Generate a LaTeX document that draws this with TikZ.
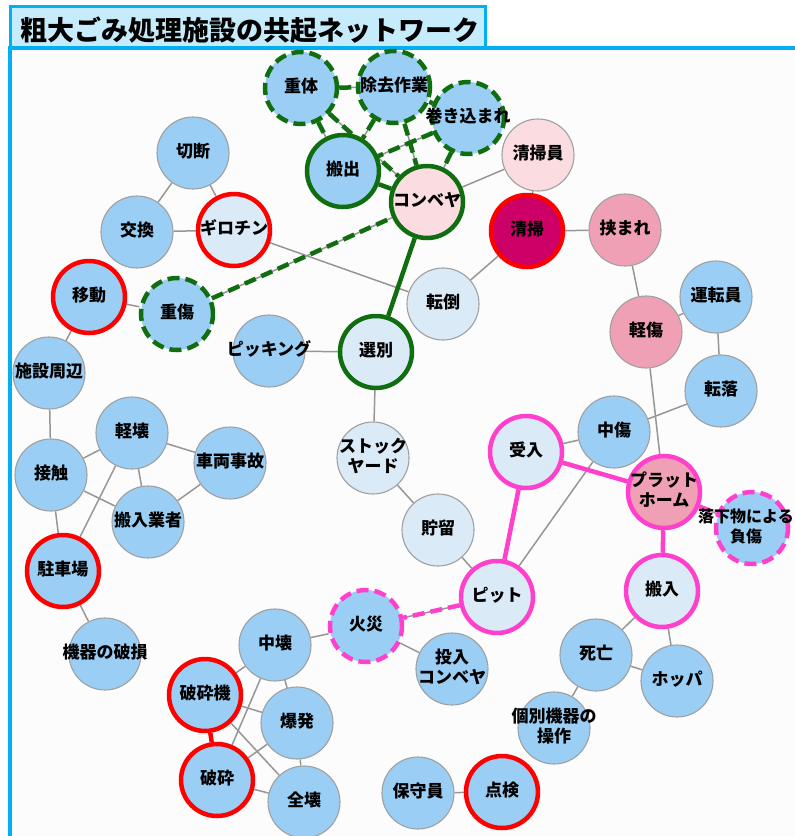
\documentclass[tikz,border=0pt]{standalone}
\usepackage{fontspec}
\newfontfamily\jp{Noto Sans CJK JP}
\newcommand\nodetxt[1]{\makebox[0pt]{\begin{tabular}{@{}c@{}}#1\end{tabular}}}
\definecolor{nblue}{RGB}{154,206,244}
\definecolor{nlight}{RGB}{218,234,247}
\definecolor{npinkl}{RGB}{250,220,225}
\definecolor{npink}{RGB}{240,160,181}
\definecolor{nmag}{RGB}{204,0,102}
\definecolor{ngrey}{RGB}{160,160,160}
\definecolor{egrey}{RGB}{150,150,150}
\definecolor{dgreen}{RGB}{16,110,16}
\definecolor{bmag}{RGB}{255,64,204}
\definecolor{framec}{RGB}{0,176,240}
\definecolor{titlefill}{RGB}{198,236,252}
\definecolor{bgc}{RGB}{252,252,252}
\pgfdeclarelayer{back}
\pgfdeclarelayer{edges}
\pgfsetlayers{back,edges,main}
\tikzset{
  lbl/.style={font=\jp\bfseries\fontsize{17}{20}\selectfont, text=black},
  nd/.style={circle, minimum size=72pt, inner sep=0pt, draw=ngrey, line width=1.1pt, lbl},
  bl/.style={nd, fill=nblue},
  lb/.style={nd, fill=nlight},
  lp/.style={nd, fill=npinkl},
  pk/.style={nd, fill=npink},
  mg/.style={nd, fill=nmag},
  redb/.style={draw=red, line width=4.5pt},
  grn/.style={draw=dgreen, line width=4.5pt},
  grnd/.style={grn, dash pattern=on 12pt off 6pt},
  mgb/.style={draw=bmag, line width=4.5pt},
  mgbd/.style={mgb, dash pattern=on 12pt off 6pt},
  edge/.style={draw=egrey, line width=1.5pt},
  gedge/.style={draw=dgreen, line width=4.5pt},
  gdash/.style={gedge, dash pattern=on 12pt off 6pt},
  medge/.style={draw=bmag, line width=4.5pt},
  mdash/.style={medge, dash pattern=on 12pt off 6pt},
  redge/.style={draw=red, line width=4.5pt}
}
\begin{document}
\begin{tikzpicture}[x=1pt,y=-1pt]
\useasboundingbox (0,0) rectangle (795,836);
\begin{pgfonlayer}{back}
  \fill[white] (0,0) rectangle (795,836);
  \fill[bgc] (10,48) rectangle (800,840);
  \draw[framec, line width=3.5pt] (10,842) -- (10,48) -- (800,48);
  \draw[framec, fill=titlefill, line width=3pt] (10,6) rectangle (485,47);
\end{pgfonlayer}
\node[font=\jp\bfseries\fontsize{27}{30}\selectfont, inner sep=0pt] (title) at (250,30) {粗大ごみ処理施設の共起ネットワーク};

% nodes
\node[bl, grnd] (juutai) at (301,88) {\nodetxt{重体}};
\node[bl, grnd] (jokyo) at (394,87) {\nodetxt{除去作業}};
\node[bl, grnd] (makikomi) at (468,118) {\nodetxt{巻き込まれ}};
\node[lp] (seisouin) at (538,155) {\nodetxt{清掃員}};
\node[bl, grn] (hanshutsu) at (343,171) {\nodetxt{搬出}};
\node[lp, grn] (conv) at (427,202) {\nodetxt{コンベヤ}};
\node[mg, redb] (seisou) at (527,231) {\nodetxt{清掃}};
\node[pk] (hasamare) at (625,230) {\nodetxt{挟まれ}};
\node[bl] (setsudan) at (193,153) {\nodetxt{切断}};
\node[bl] (koukan) at (137,232) {\nodetxt{交換}};
\node[lb, redb] (giro) at (234,230) {\nodetxt{ギロチン}};
\node[bl, redb] (idou) at (89,297) {\nodetxt{移動}};
\node[bl, grnd] (juushou) at (177,314) {\nodetxt{重傷}};
\node[lb] (tentou) at (443,304) {\nodetxt{転倒}};
\node[bl] (picking) at (269,351) {\nodetxt{ピッキング}};
\node[lb, grn] (senbetsu) at (376,352) {\nodetxt{選別}};
\node[bl] (shisetsu) at (49,373) {\nodetxt{施設周辺}};
\node[bl] (untenin) at (716,297) {\nodetxt{運転員}};
\node[pk] (keishou) at (646,332) {\nodetxt{軽傷}};
\node[bl] (tenraku) at (721,391) {\nodetxt{転落}};
\node[bl] (chuushou) at (614,432) {\nodetxt{中傷}};
\node[lb, mgb] (ukeire) at (526,452) {\nodetxt{受入}};
\node[lb] (stock) at (373,458) {\nodetxt{ストック\\ヤード}};
\node[bl] (keikai) at (132,433) {\nodetxt{軽壊}};
\node[bl] (sharyou) at (230,463) {\nodetxt{車両事故}};
\node[bl] (sesshoku) at (51,475) {\nodetxt{接触}};
\node[bl] (hgyousha) at (148,522) {\nodetxt{搬入業者}};
\node[pk, mgb] (platform) at (664,492) {\nodetxt{プラット\\ホーム}};
\node[bl, mgbd] (rakka) at (752,528) {};
\node[lbl, inner sep=0pt, font=\jp\bfseries\fontsize{16}{20}\selectfont] (rakkatext) at (746,528) {\nodetxt{落下物による\\負傷}};
\node[lb] (chozou) at (438,530) {\nodetxt{貯留}};
\node[bl, redb] (chuusha) at (63,571) {\nodetxt{駐車場}};
\node[lb, mgb] (hannyuu) at (662,591) {\nodetxt{搬入}};
\node[lb, mgb] (pit) at (497,597) {\nodetxt{ピット}};
\node[bl, mgbd] (kasai) at (366,626) {\nodetxt{火災}};
\node[bl] (chuukai) at (275,645) {\nodetxt{中壊}};
\node[bl] (kiki) at (105,654) {\nodetxt{機器の破損}};
\node[bl] (tounyuu) at (452,669) {\nodetxt{投入\\コンベヤ}};
\node[bl] (shibou) at (596,655) {\nodetxt{死亡}};
\node[bl] (hoppa) at (677,681) {\nodetxt{ホッパ}};
\node[bl, redb] (hasaiki) at (205,695) {\nodetxt{破砕機}};
\node[bl] (bakuhatsu) at (297,723) {\nodetxt{爆発}};
\node[bl] (kobetsu) at (554,728) {\nodetxt{個別機器の\\操作}};
\node[bl, redb] (hasai) at (217,780) {\nodetxt{破砕}};
\node[bl] (zenkai) at (304,802) {\nodetxt{全壊}};
\node[bl] (hoshu) at (418,793) {\nodetxt{保守員}};
\node[bl, redb] (tenken) at (502,792) {\nodetxt{点検}};

\begin{pgfonlayer}{edges}
  \foreach \a/\b in {setsudan/koukan, setsudan/giro, koukan/giro, giro/tentou,
    idou/juushou, idou/shisetsu, shisetsu/sesshoku, sesshoku/keikai,
    sesshoku/hgyousha, sesshoku/chuusha, keikai/sharyou, keikai/hgyousha,
    keikai/chuusha, sharyou/hgyousha, chuusha/kiki, picking/senbetsu,
    senbetsu/stock, stock/chozou, chozou/pit, tentou/seisou, seisouin/conv,
    seisouin/seisou, seisou/hasamare, hasamare/keishou, keishou/untenin,
    untenin/tenraku, keishou/platform, tenraku/chuushou, chuushou/ukeire,
    chuushou/pit, kasai/chuukai, kasai/tounyuu, chuukai/hasaiki,
    chuukai/bakuhatsu, chuukai/hasai, hasaiki/bakuhatsu, hasaiki/zenkai,
    hasai/bakuhatsu, hasai/zenkai, bakuhatsu/zenkai, hoshu/tenken,
    hannyuu/shibou, hannyuu/hoppa, shibou/hoppa, shibou/kobetsu,
    hanshutsu/conv, conv/senbetsu, juutai/jokyo, juutai/hanshutsu, juutai/conv,
    jokyo/hanshutsu, jokyo/conv, jokyo/makikomi, makikomi/hanshutsu,
    makikomi/conv, juushou/conv, ukeire/platform, ukeire/pit, platform/hannyuu,
    platform/rakka, pit/kasai, hasaiki/hasai}
    {\draw[edge] (\a) -- (\b);}
  \foreach \a/\b in {hanshutsu/conv, conv/senbetsu}
    {\draw[gedge] (\a) -- (\b);}
  \foreach \a/\b in {juutai/jokyo, juutai/hanshutsu, juutai/conv, jokyo/hanshutsu,
    jokyo/conv, jokyo/makikomi, makikomi/hanshutsu, makikomi/conv, juushou/conv}
    {\draw[gdash] (\a) -- (\b);}
  \foreach \a/\b in {ukeire/platform, ukeire/pit, platform/hannyuu}
    {\draw[medge] (\a) -- (\b);}
  \foreach \a/\b in {platform/rakka, pit/kasai}
    {\draw[mdash] (\a) -- (\b);}
  \draw[redge] (hasaiki) -- (hasai);
\end{pgfonlayer}
\end{tikzpicture}
\end{document}
